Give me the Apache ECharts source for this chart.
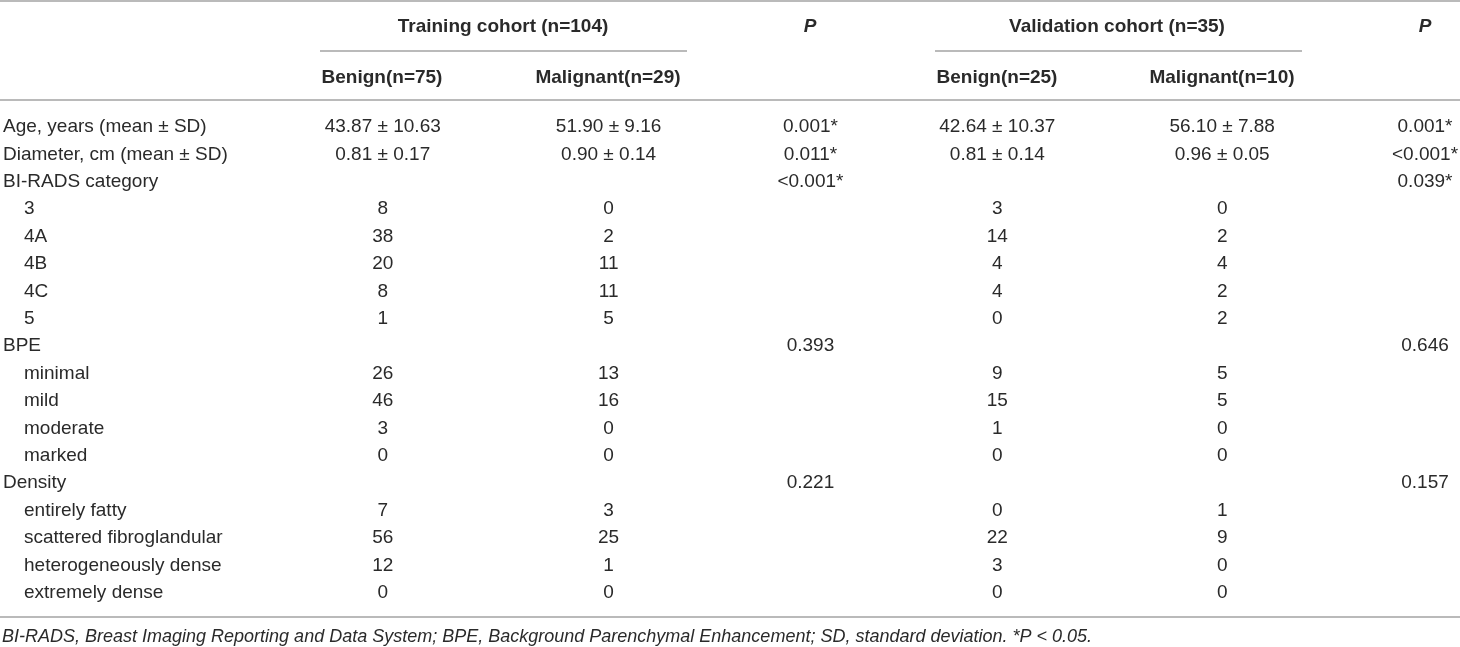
<!DOCTYPE html>
<html>
<head>
<meta charset="utf-8">
<script src="https://cdn.jsdelivr.net/npm/echarts@6/dist/echarts.min.js"></script>
<style>
  html, body { margin: 0; padding: 0; background: #fff; }
  #table1 { width: 1460px; height: 647px; }
</style>
</head>
<body>
<div id="table1"></div>
<script>
// row labels (top level rows are not indented)
var rowLabels = ['Age, years (mean ± SD)', 'Diameter, cm (mean ± SD)', 'BI-RADS category',
  '3', '4A', '4B', '4C', '5',
  'BPE', 'minimal', 'mild', 'moderate', 'marked',
  'Density', 'entirely fatty', 'scattered fibroglandular', 'heterogeneously dense', 'extremely dense'];
var topRows = ['Age, years (mean ± SD)', 'Diameter, cm (mean ± SD)', 'BI-RADS category', 'BPE', 'Density'];

var trainBenign = ['43.87 ± 10.63', '0.81 ± 0.17', '', '8', '38', '20', '8', '1', '', '26', '46', '3', '0', '', '7', '56', '12', '0'];
var trainMalig  = ['51.90 ± 9.16', '0.90 ± 0.14', '', '0', '2', '11', '11', '5', '', '13', '16', '0', '0', '', '3', '25', '1', '0'];
var trainP      = ['0.001*', '0.011*', '<0.001*', '', '', '', '', '', '0.393', '', '', '', '', '0.221', '', '', '', ''];
var validBenign = ['42.64 ± 10.37', '0.81 ± 0.14', '', '3', '14', '4', '4', '0', '', '9', '15', '1', '0', '', '0', '22', '3', '0'];
var validMalig  = ['56.10 ± 7.88', '0.96 ± 0.05', '', '0', '2', '4', '2', '2', '', '5', '5', '0', '0', '', '1', '9', '0', '0'];
var validP      = ['0.001*', '<0.001*', '0.039*', '', '', '', '', '', '0.646', '', '', '', '', '0.157', '', '', '', ''];

var groupTitles = ['Training cohort (n=104)', 'Validation cohort (n=35)'];
var colTitles = ['Benign(n=75)', 'Malignant(n=29)', 'Benign(n=25)', 'Malignant(n=10)'];
var footNote = 'BI-RADS, Breast Imaging Reporting and Data System; BPE, Background Parenchymal Enhancement; SD, standard deviation. *P < 0.05.';

// layout
var font = "'Liberation Sans', Arial, Helvetica, sans-serif";
var txt = '#2a2a2a';
var rule = '#a3a3a3';
var fs = 19;
var colX = { tb: 382, tm: 608, tp: 810, vb: 997, vm: 1222, vp: 1425 };

function cellSeries(name, vals, x) {
  var d = [];
  vals.forEach(function (v, i) { if (v !== '') d.push([x, i, v]); });
  return {
    name: name,
    type: 'scatter',
    symbolSize: 0,
    silent: true,
    data: d,
    itemStyle: { opacity: 1 },
    label: {
      show: true,
      position: 'inside',
      color: txt,
      opacity: 1,
      fontSize: fs,
      fontFamily: font,
      textBorderWidth: 0,
      textBorderColor: 'transparent',
      formatter: function (p) { return p.value[2]; }
    }
  };
}

function hText(s, x, y, bold, italic) {
  return {
    type: 'text', x: x, y: y,
    style: {
      text: s, fill: txt, font: (italic ? 'italic ' : '') + (bold ? 'bold ' : '') + fs + 'px ' + font,
      align: 'center', verticalAlign: 'middle'
    }
  };
}

function hLine(x1, x2, y) {
  return { type: 'line', shape: { x1: x1, y1: y, x2: x2, y2: y }, style: { stroke: rule, lineWidth: 1.6 } };
}

var chart = echarts.init(document.getElementById('table1'));
var option = {
  animation: false,
  grid: { left: 0, right: 0, top: 113.3, bottom: 40.5 },
  xAxis: { type: 'value', min: 0, max: 1460, show: false },
  yAxis: {
    type: 'category',
    inverse: true,
    data: rowLabels,
    axisLine: { show: false },
    axisTick: { show: false },
    splitLine: { show: false },
    axisLabel: {
      inside: true,
      interval: 0,
      margin: 2,
      color: txt,
      fontSize: fs,
      fontFamily: font,
      formatter: function (v) {
        return topRows.indexOf(v) >= 0 ? '{top|' + v + '}' : '{sub|' + v + '}';
      },
      rich: {
        top: { color: txt, fontSize: fs, fontFamily: font },
        sub: { color: txt, fontSize: fs, fontFamily: font, padding: [0, 0, 0, 21] }
      }
    }
  },
  series: [
    cellSeries('trainBenign', trainBenign, colX.tb),
    cellSeries('trainMalig', trainMalig, colX.tm),
    cellSeries('trainP', trainP, colX.tp),
    cellSeries('validBenign', validBenign, colX.vb),
    cellSeries('validMalig', validMalig, colX.vm),
    cellSeries('validP', validP, colX.vp)
  ],
  graphic: [
    hLine(0, 1460, 1),
    hText(groupTitles[0], 503, 27, true),
    hText('P', colX.tp, 27, true, true),
    hText(groupTitles[1], 1117, 27, true),
    hText('P', colX.vp, 27, true, true),
    hLine(320, 687, 51),
    hLine(935, 1302, 51),
    hText(colTitles[0], colX.tb, 78, true),
    hText(colTitles[1], colX.tm, 78, true),
    hText(colTitles[2], colX.vb, 78, true),
    hText(colTitles[3], colX.vm, 78, true),
    hLine(0, 1460, 100),
    hLine(0, 1460, 617),
    {
      type: 'text', x: 2, y: 637,
      style: { text: footNote, fill: txt, font: 'italic 18px ' + font, align: 'left', verticalAlign: 'middle' }
    }
  ]
};
chart.setOption(option);
</script>
</body>
</html>
